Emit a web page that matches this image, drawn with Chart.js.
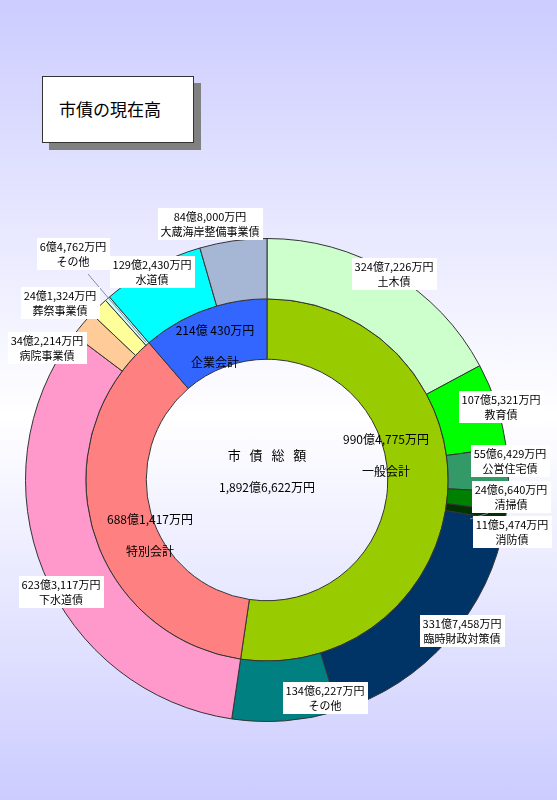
<!DOCTYPE html>
<html lang="ja">
<head>
<meta charset="UTF-8">
<title>市債の現在高</title>
<script src="https://cdn.jsdelivr.net/npm/chart.js"></script>
<style>
  html, body { margin: 0; padding: 0; }
  body {
    width: 557px; height: 800px; overflow: hidden; position: relative;
    background: linear-gradient(#ccccff 0%, #ffffff 52%, #ccccff 100%);
    font-family: "Noto Sans CJK JP", sans-serif;
  }
  #title {
    position: absolute; left: 42px; top: 76px; width: 152px; height: 67px;
    background: #fff; border: 1px solid #333;
    box-shadow: 7px 7px 0 #808080;
    font-size: 17px; line-height: 64px; padding-left: 16px; box-sizing: border-box;
  }
  #wrap { position: absolute; left: 0; top: 0; width: 557px; height: 800px; }
</style>
</head>
<body>
<div id="title">市債の現在高</div>
<div id="wrap"><canvas id="debtChart"></canvas></div>
<script>
  // 内側：会計区分（億円）
  const accountNames = ['一般会計', '特別会計', '企業会計'];
  const accountValues = [990.4775, 688.1417, 214.0430];
  const accountText = ['990億4,775万円', '688億1,417万円', '214億 430万円'];
  const accountColors = ['#99cc00', '#ff8080', '#3366ff'];

  // 外側：債の内訳（億円）
  const bondNames = ['土木債', '教育債', '公営住宅債', '清掃債', '消防債', '臨時財政対策債', 'その他',
                     '下水道債', '病院事業債', '葬祭事業債', 'その他',
                     '水道債', '大蔵海岸整備事業債'];
  const bondValues = [324.7226, 107.5321, 55.6429, 24.6640, 11.5474, 331.7458, 134.6227,
                      623.3117, 34.2214, 24.1324, 6.4762,
                      129.2430, 84.8000];
  const bondText = ['324億7,226万円', '107億5,321万円', '55億6,429万円', '24億6,640万円', '11億5,474万円',
                    '331億7,458万円', '134億6,227万円', '623億3,117万円', '34億2,214万円',
                    '24億1,324万円', '6億4,762万円', '129億2,430万円', '84億8,000万円'];
  const bondColors = ['#ccffcc', '#00ff00', '#339966', '#008000', '#003300', '#003366', '#008080',
                      '#ff99cc', '#ffcc99', '#ffff99', '#ccffff', '#00ffff', '#a6b7d6'];

  const totalText = '1,892億6,622万円';

  // ラベルの置き場所（ボックス中心）
  const bondLabelPos = [[394, 274], [501, 407], [510, 461], [511, 497], [512, 532],
                        [462, 631], [325, 698], [61, 592], [47, 348],
                        [60, 303], [73, 254], [152, 272], [210, 224]];
  const accountLabelPos = [[386, 439], [150, 519], [215, 330]];
  const leaderLines = { 10: [88, 274], 4: [470, 519] };

  const labelPlugin = {
    id: 'labels',
    afterDraw(chart) {
      const ctx = chart.ctx;
      ctx.save();
      ctx.textAlign = 'center';
      ctx.textBaseline = 'middle';

      // 引出線
      const outer = chart.getDatasetMeta(0).data;
      ctx.strokeStyle = '#8a8aa0';
      ctx.lineWidth = 1;
      Object.keys(leaderLines).forEach(k => {
        const arc = outer[k];
        const p = arc.getProps(['x', 'y', 'startAngle', 'endAngle', 'innerRadius', 'outerRadius']);
        const a = (p.startAngle + p.endAngle) / 2;
        const r = k == 10 ? p.innerRadius + 2 : (p.innerRadius + p.outerRadius) / 2 + 12;
        ctx.beginPath();
        ctx.moveTo(leaderLines[k][0], leaderLines[k][1]);
        ctx.lineTo(p.x + Math.cos(a) * r, p.y + Math.sin(a) * r);
        ctx.stroke();
      });

      // 外側ラベル
      ctx.font = '11px "Noto Sans CJK JP"';
      bondNames.forEach((name, i) => {
        const [cx, cy] = bondLabelPos[i];
        const w = Math.max(ctx.measureText(bondText[i]).width, ctx.measureText(name).width) + 6;
        const h = 32;
        ctx.fillStyle = '#ffffff';
        ctx.fillRect(Math.round(cx - w / 2), Math.round(cy - h / 2), Math.round(w), h);
        ctx.fillStyle = '#000000';
        ctx.fillText(bondText[i], cx, cy - 7);
        ctx.fillText(name, cx, cy + 8);
      });

      // 内側ラベル
      ctx.font = '12px "Noto Sans CJK JP"';
      accountNames.forEach((name, i) => {
        const [cx, cy] = accountLabelPos[i];
        ctx.fillStyle = '#000000';
        ctx.fillText(accountText[i], cx, cy);
        ctx.fillText(name, cx, cy + 32);
      });

      // 中央
      const c = chart.getDatasetMeta(1).data[0];
      ctx.font = '13px "Noto Sans CJK JP"';
      ctx.letterSpacing = '3px';
      ctx.fillText('市 債 総 額', c.x + 1.5, c.y - 25);
      ctx.letterSpacing = '0px';
      ctx.font = '12px "Noto Sans CJK JP"';
      ctx.fillText(totalText, c.x, c.y + 7);
      ctx.restore();
    }
  };

  new Chart(document.getElementById('debtChart'), {
    type: 'doughnut',
    data: {
      labels: bondNames,
      datasets: [
        { data: bondValues, backgroundColor: bondColors, borderColor: '#333333', borderWidth: 1 },
        { data: accountValues, backgroundColor: accountColors, borderColor: '#333333', borderWidth: 1 }
      ]
    },
    options: {
      responsive: true,
      maintainAspectRatio: false,
      animation: false,
      events: [],
      cutout: '50%',
      layout: { padding: { left: 25, right: 48, top: 238, bottom: 78 } },
      plugins: { legend: { display: false }, tooltip: { enabled: false } }
    },
    plugins: [labelPlugin]
  });
</script>
</body>
</html>
